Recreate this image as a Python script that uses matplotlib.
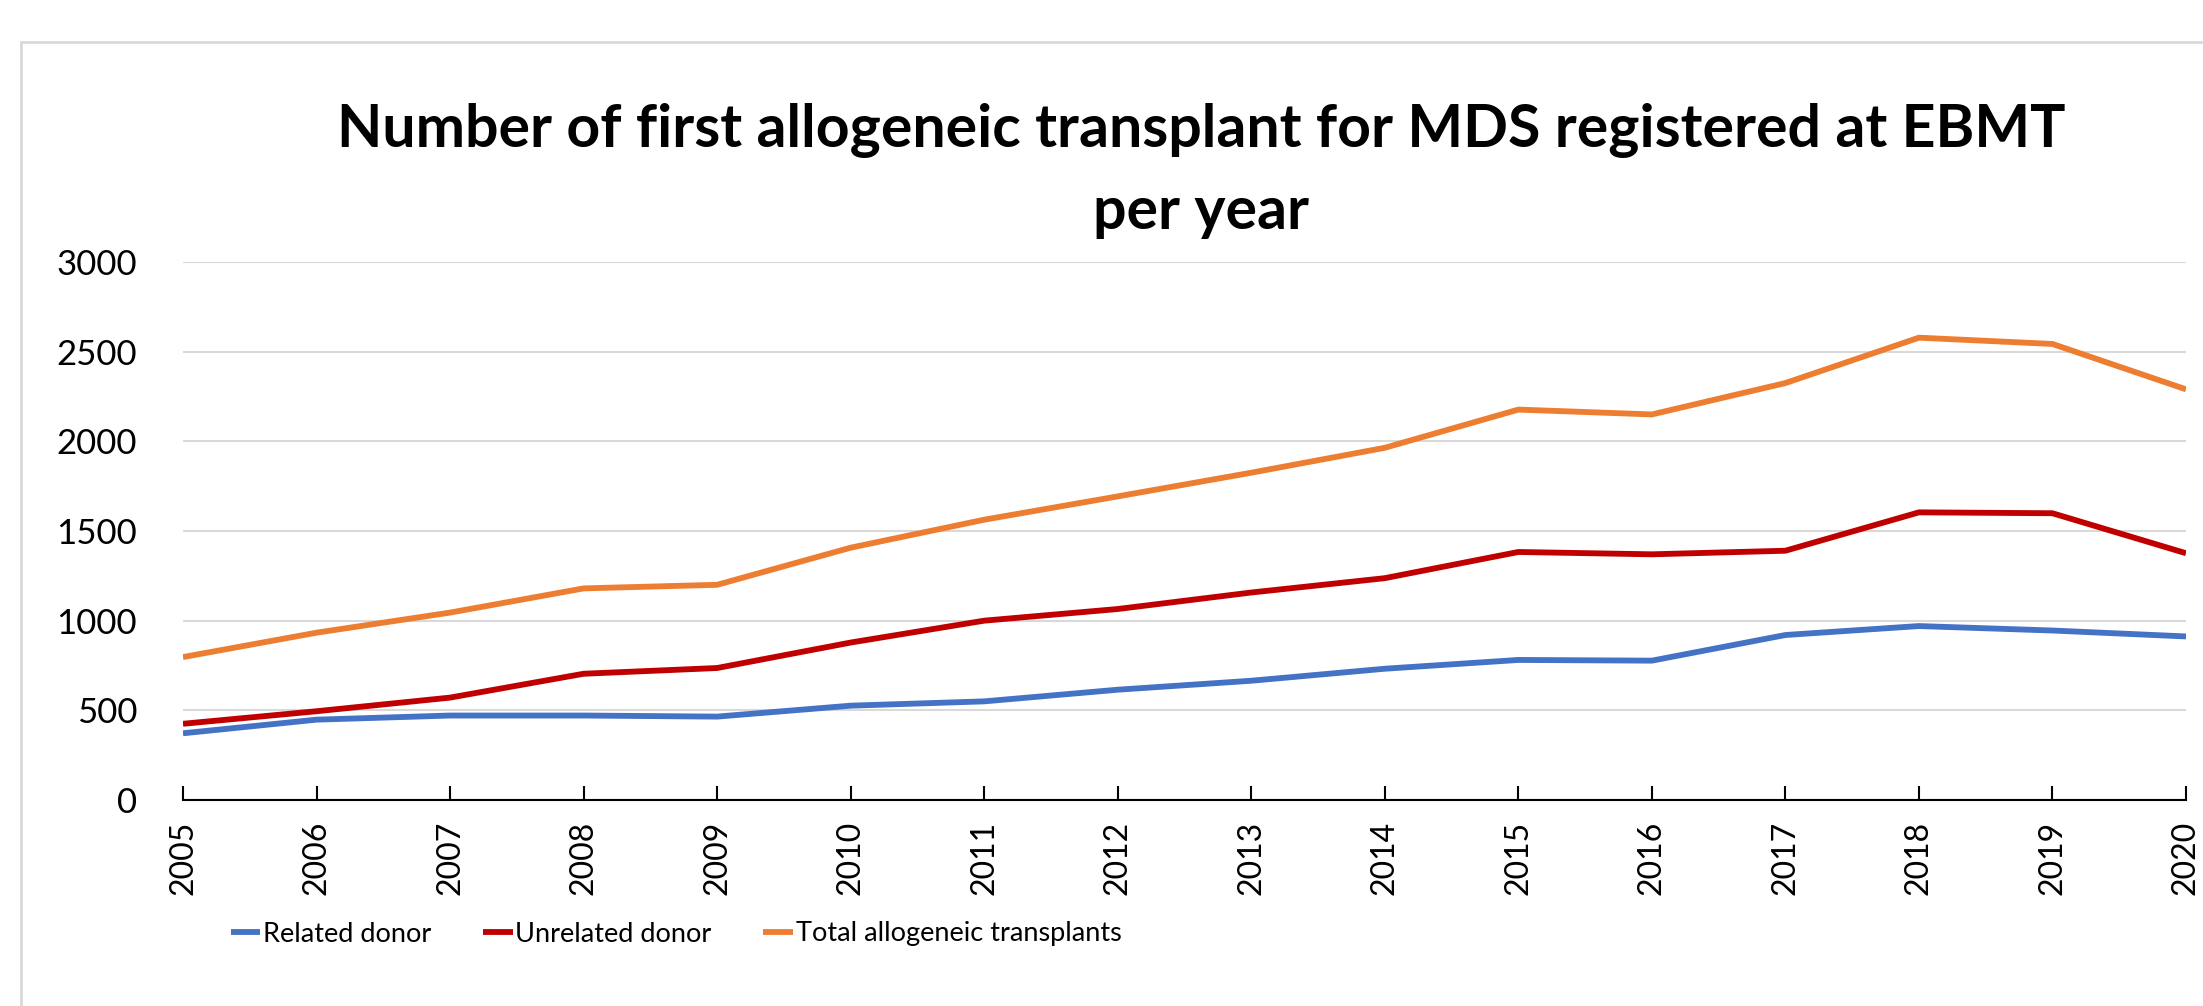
import matplotlib.pyplot as plt
from matplotlib.patches import Rectangle

# data
years = [2005, 2006, 2007, 2008, 2009, 2010, 2011, 2012,
         2013, 2014, 2015, 2016, 2017, 2018, 2019, 2020]
related = [372, 448, 471, 471, 465, 526, 550, 615,
           665, 732, 781, 777, 920, 970, 945, 912]
unrelated = [425, 495, 571, 704, 736, 878, 1000, 1065,
             1157, 1237, 1383, 1370, 1390, 1604, 1599, 1376]
total = [797, 933, 1045, 1180, 1200, 1407, 1563, 1693,
         1825, 1964, 2177, 2150, 2325, 2578, 2543, 2290]
series_names = ['Related donor', 'Unrelated donor', 'Total allogeneic transplants']
y_ticks = [0, 500, 1000, 1500, 2000, 2500, 3000]

title = 'Number of first allogeneic transplant for MDS registered at EBMT\nper year'

plt.rcParams['font.family'] = ['Lato', 'DejaVu Sans']

W, H = 2203, 1006
fig = plt.figure(figsize=(W / 100, H / 100), dpi=100)

# chart area border (light grey, runs off the right and bottom edges)
fig.patches.append(Rectangle((21 / W, -0.1), 1.2, 1 - 42 / H + 0.1,
                             transform=fig.transFigure, fill=False,
                             edgecolor='#D9D9D9', linewidth=2))

ax = fig.add_axes([183 / W, 1 - 800 / H, (2186 - 183) / W, (800 - 262) / H])

colors = ['#4472C4', '#C00000', '#ED7D31']
for vals, name, c in zip([related, unrelated, total], series_names, colors):
    ax.plot(years, vals, color=c, linewidth=4.2, label=name, solid_capstyle='butt')

ax.set_xlim(years[0], years[-1])
ax.set_ylim(0, 3000)
ax.set_yticks(y_ticks)
ax.set_xticks(years)
ax.set_xticklabels([str(y) for y in years], rotation=90)
ax.grid(axis='y', color='#D9D9D9', linewidth=1.5)
ax.set_axisbelow(True)

for s in ['left', 'right', 'top']:
    ax.spines[s].set_visible(False)
ax.spines['bottom'].set_color('#000000')
ax.spines['bottom'].set_linewidth(1.5)
ax.spines['bottom'].set_zorder(5)

ax.tick_params(axis='y', length=0, pad=33, labelsize=25, labelcolor='#000000')
ax.tick_params(axis='x', direction='in', length=10, width=1.5, pad=15,
               labelsize=23, labelcolor='#000000')

fig.text(1201 / W, 1 - 171 / H, title, ha='center', va='center',
         fontsize=42.5, fontweight='bold', linespacing=1.62)

fig.legend(loc='center', bbox_to_anchor=(676 / W, 1 - 934 / H), ncol=3,
           frameon=False, fontsize=19.5, handlelength=1.1, handletextpad=0.1,
           columnspacing=1.9)

fig.savefig('out.png', dpi=100)
